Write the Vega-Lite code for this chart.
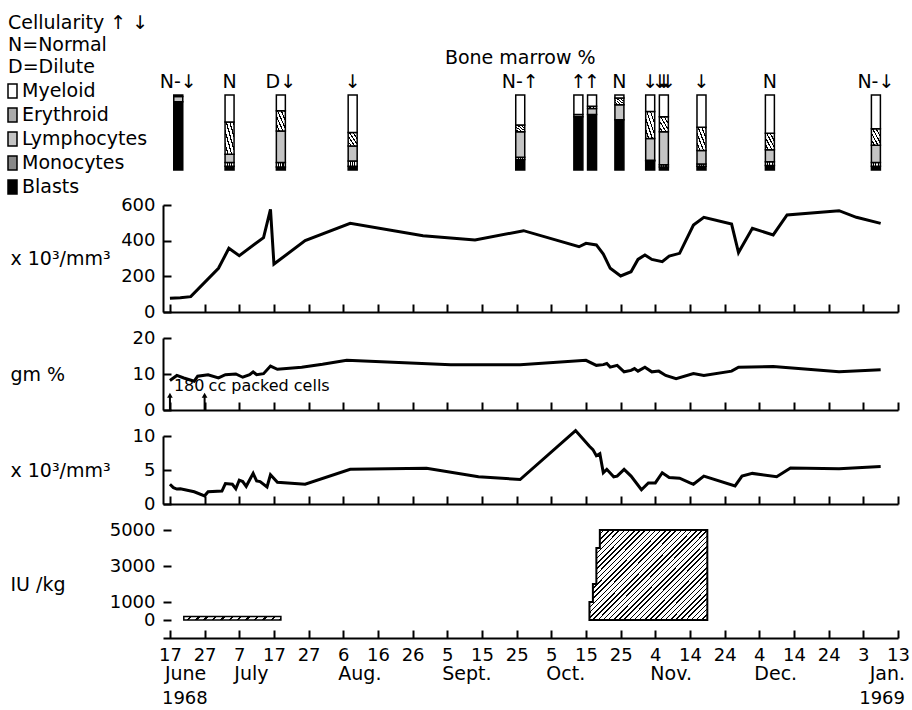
{
  "$schema": "https://vega.github.io/schema/vega-lite/v6.json",
  "autosize": {"type": "none"},
  "padding": {"left": 163, "top": 95, "right": 749, "bottom": 615},
  "background": "white",
  "bounds": "flush",
  "spacing": 26,
  "config": {
    "font": "DejaVu Sans",
    "view": {"stroke": null},
    "axis": {
      "grid": false, "domainColor": "black", "domainWidth": 2,
      "tickColor": "black", "tickWidth": 2, "tickSize": -8, "tickCount": 40,
      "labelColor": "black", "labelFont": "DejaVu Sans", "labelFontSize": 18,
      "labelPadding": 16, "labelFlush": false, "labelOverlap": false,
      "titleColor": "black", "titleFont": "DejaVu Sans", "titleFontSize": 19, "titleFontWeight": "normal"
    },
    "axisY": {"titleAngle": 0, "titleAlign": "left", "titleBaseline": "middle", "titleX": -153, "format": "d"},
    "text": {"font": "DejaVu Sans", "fontSize": 19, "fill": "black"}
  },
  "vconcat": [
    {
      "width": 735, "height": 84,
      "layer": [
        {
          "data": {
            "values": [
              {"date": "1968-06-18", "Myeloid": 2, "Erythroid": 0, "Lymphocytes": 7, "Monocytes": 0, "Blasts": 91},
              {"date": "1968-07-03", "Myeloid": 36, "Erythroid": 43, "Lymphocytes": 11, "Monocytes": 5, "Blasts": 5},
              {"date": "1968-07-18", "Myeloid": 21, "Erythroid": 27, "Lymphocytes": 42, "Monocytes": 6, "Blasts": 4},
              {"date": "1968-08-08", "Myeloid": 50, "Erythroid": 18, "Lymphocytes": 20, "Monocytes": 7, "Blasts": 5},
              {"date": "1968-09-26", "Myeloid": 40, "Erythroid": 9, "Lymphocytes": 34, "Monocytes": 3, "Blasts": 14},
              {"date": "1968-10-13", "Myeloid": 26, "Erythroid": 0, "Lymphocytes": 3, "Monocytes": 0, "Blasts": 71},
              {"date": "1968-10-17", "Myeloid": 15, "Erythroid": 3, "Lymphocytes": 8, "Monocytes": 0, "Blasts": 74},
              {"date": "1968-10-25", "Myeloid": 4, "Erythroid": 9, "Lymphocytes": 20, "Monocytes": 0, "Blasts": 67},
              {"date": "1968-11-03", "Myeloid": 22, "Erythroid": 36, "Lymphocytes": 29, "Monocytes": 1, "Blasts": 12},
              {"date": "1968-11-07", "Myeloid": 29, "Erythroid": 20, "Lymphocytes": 44, "Monocytes": 3, "Blasts": 4},
              {"date": "1968-11-18", "Myeloid": 43, "Erythroid": 31, "Lymphocytes": 18, "Monocytes": 3, "Blasts": 5},
              {"date": "1968-12-08", "Myeloid": 51, "Erythroid": 22, "Lymphocytes": 16, "Monocytes": 5, "Blasts": 6},
              {"date": "1969-01-08", "Myeloid": 45, "Erythroid": 22, "Lymphocytes": 23, "Monocytes": 5, "Blasts": 5}
            ],
            "format": {"parse": {"date": "date:'%Y-%m-%d'"}}
          },
          "transform": [
            {"fold": ["Blasts", "Monocytes", "Lymphocytes", "Erythroid", "Myeloid"], "as": ["cell", "pct"]},
            {"filter": "datum.pct > 0"},
            {"stack": "pct", "groupby": ["date"], "as": ["lo", "hi"]}
          ],
          "mark": {"type": "bar", "width": 9, "orient": "vertical", "stroke": "black", "strokeWidth": 1.5, "opacity": 1},
          "encoding": {
            "x": {"field": "date", "type": "temporal", "scale": {"domain": [{"year": 1968, "month": 6, "date": 15}, {"year": 1969, "month": 1, "date": 13}]}, "axis": null},
            "y": {"field": "lo", "type": "quantitative", "scale": {"domain": [-12, 100], "nice": false, "zero": false}, "axis": null},
            "y2": {"field": "hi"},
            "fill": {
              "condition": [
                {"test": "datum.cell === 'Erythroid'", "value": {"gradient": "linear", "x1": 0, "y1": 1, "x2": 1, "y2": 0, "stops": [
                  {"offset": 0, "color": "#fff"}, {"offset": 0.13, "color": "#fff"}, {"offset": 0.13, "color": "#000"}, {"offset": 0.2, "color": "#000"},
                  {"offset": 0.2, "color": "#fff"}, {"offset": 0.33, "color": "#fff"}, {"offset": 0.33, "color": "#000"}, {"offset": 0.4, "color": "#000"},
                  {"offset": 0.4, "color": "#fff"}, {"offset": 0.53, "color": "#fff"}, {"offset": 0.53, "color": "#000"}, {"offset": 0.6, "color": "#000"},
                  {"offset": 0.6, "color": "#fff"}, {"offset": 0.73, "color": "#fff"}, {"offset": 0.73, "color": "#000"}, {"offset": 0.8, "color": "#000"},
                  {"offset": 0.8, "color": "#fff"}, {"offset": 0.93, "color": "#fff"}, {"offset": 0.93, "color": "#000"}, {"offset": 1, "color": "#000"}
                ]}},
                {"test": "datum.cell === 'Monocytes'", "value": {"gradient": "linear", "x1": 0, "y1": 0, "x2": 1, "y2": 0, "stops": [
                  {"offset": 0, "color": "#fff"}, {"offset": 0.2, "color": "#fff"}, {"offset": 0.2, "color": "#000"}, {"offset": 0.32, "color": "#000"},
                  {"offset": 0.32, "color": "#fff"}, {"offset": 0.44, "color": "#fff"}, {"offset": 0.44, "color": "#000"}, {"offset": 0.56, "color": "#000"},
                  {"offset": 0.56, "color": "#fff"}, {"offset": 0.68, "color": "#fff"}, {"offset": 0.68, "color": "#000"}, {"offset": 0.8, "color": "#000"},
                  {"offset": 0.8, "color": "#fff"}, {"offset": 1, "color": "#fff"}
                ]}}
              ],
              "field": "cell", "type": "nominal",
              "scale": {
                "domain": ["Myeloid", "Erythroid", "Lymphocytes", "Monocytes", "Blasts"],
                "range": ["#ffffff", "#aaaaaa", "#c4c4c4", "#888888", "#000000"]
              },
              "legend": {
                "orient": "none", "legendX": -155, "legendY": -81, "padding": 0,
                "title": ["Cellularity ↑ ↓", "N=Normal", "D=Dilute"],
                "titleFontSize": 19, "titleFontWeight": "normal", "titleColor": "black", "titleLineHeight": 22, "titlePadding": 4.5,
                "labelFontSize": 19, "labelColor": "black", "labelOffset": 0,
                "symbolType": "M-0.9,-1.4H0.9V1.4H-0.9Z", "symbolSize": 100, "symbolOffset": -5,
                "symbolStrokeColor": "black", "symbolStrokeWidth": 1.5, "rowPadding": 3,
                "encode": {
                  "symbols": {
                    "fill": {"signal": "datum.value === 'Erythroid' ? {gradient: 'linear', x1: 0, y1: 1, x2: 1, y2: 0, stops: [{offset: 0, color: '#fff'}, {offset: 0.27, color: '#fff'}, {offset: 0.27, color: '#000'}, {offset: 0.37, color: '#000'}, {offset: 0.37, color: '#fff'}, {offset: 0.63, color: '#fff'}, {offset: 0.63, color: '#000'}, {offset: 0.73, color: '#000'}, {offset: 0.73, color: '#fff'}, {offset: 1, color: '#fff'}]} : datum.value === 'Monocytes' ? {gradient: 'linear', x1: 0, y1: 0, x2: 1, y2: 0, stops: [{offset: 0, color: '#fff'}, {offset: 0.2, color: '#fff'}, {offset: 0.2, color: '#000'}, {offset: 0.32, color: '#000'}, {offset: 0.32, color: '#fff'}, {offset: 0.44, color: '#fff'}, {offset: 0.44, color: '#000'}, {offset: 0.56, color: '#000'}, {offset: 0.56, color: '#fff'}, {offset: 0.68, color: '#fff'}, {offset: 0.68, color: '#000'}, {offset: 0.8, color: '#000'}, {offset: 0.8, color: '#fff'}, {offset: 1, color: '#fff'}]} : datum.value === 'Lymphocytes' ? '#c4c4c4' : datum.value === 'Blasts' ? '#000000' : '#ffffff'"},
                    "stroke": {"value": "black"},
                    "strokeWidth": {"value": 1.5},
                    "opacity": {"value": 1}
                  }
                }
              }
            }
          }
        },
        {
          "data": {
            "values": [
              {"date": "1968-06-18", "cellularity": "N-↓"},
              {"date": "1968-07-03", "cellularity": "N"},
              {"date": "1968-07-18", "cellularity": "D↓"},
              {"date": "1968-08-08", "cellularity": "↓"},
              {"date": "1968-09-26", "cellularity": "N-↑"},
              {"date": "1968-10-13", "cellularity": "↑"},
              {"date": "1968-10-17", "cellularity": "↑"},
              {"date": "1968-10-25", "cellularity": "N"},
              {"date": "1968-11-03", "cellularity": "↓"},
              {"date": "1968-11-18", "cellularity": "↓"},
              {"date": "1968-12-08", "cellularity": "N"},
              {"date": "1969-01-08", "cellularity": "N-↓"}
            ],
            "format": {"parse": {"date": "date:'%Y-%m-%d'"}}
          },
          "mark": {"type": "text", "fontSize": 19, "baseline": "alphabetic", "dy": -7},
          "encoding": {
            "x": {"field": "date", "type": "temporal"},
            "y": {"datum": 100},
            "text": {"field": "cellularity"}
          }
        },
        {
          "data": {"values": [{"date": "1968-11-07", "cellularity": "↓↓↓"}], "format": {"parse": {"date": "date:'%Y-%m-%d'"}}},
          "encoding": {
            "x": {"field": "date", "type": "temporal"},
            "y": {"datum": 100}
          },
          "layer": [
            {"mark": {"type": "text", "text": "↓", "fontSize": 19, "baseline": "alphabetic", "dy": -7, "dx": -4}},
            {"mark": {"type": "text", "text": "↓", "fontSize": 19, "baseline": "alphabetic", "dy": -7}},
            {"mark": {"type": "text", "text": "↓", "fontSize": 19, "baseline": "alphabetic", "dy": -7, "dx": 4}}
          ]
        },
        {
          "data": {"values": [{"label": "Bone marrow %"}]},
          "mark": {"type": "text", "fontSize": 19, "baseline": "middle", "dy": -37},
          "encoding": {
            "x": {"datum": {"year": 1968, "month": 9, "date": 26}},
            "y": {"datum": 100},
            "text": {"field": "label"}
          }
        }
      ]
    },
    {
      "width": 735, "height": 107,
      "encoding": {
        "x": {
          "field": "date", "type": "temporal",
          "scale": {"domain": [{"year": 1968, "month": 6, "date": 15}, {"year": 1969, "month": 1, "date": 13}]},
          "axis": {"labels": false, "title": null, "values": [
            {"year": 1968, "month": 6, "date": 17}, {"year": 1968, "month": 6, "date": 27}, {"year": 1968, "month": 7, "date": 7}, {"year": 1968, "month": 7, "date": 17},
            {"year": 1968, "month": 7, "date": 27}, {"year": 1968, "month": 8, "date": 6}, {"year": 1968, "month": 8, "date": 16}, {"year": 1968, "month": 8, "date": 26},
            {"year": 1968, "month": 9, "date": 5}, {"year": 1968, "month": 9, "date": 15}, {"year": 1968, "month": 9, "date": 25}, {"year": 1968, "month": 10, "date": 5},
            {"year": 1968, "month": 10, "date": 15}, {"year": 1968, "month": 10, "date": 25}, {"year": 1968, "month": 11, "date": 4}, {"year": 1968, "month": 11, "date": 14},
            {"year": 1968, "month": 11, "date": 24}, {"year": 1968, "month": 12, "date": 4}, {"year": 1968, "month": 12, "date": 14}, {"year": 1968, "month": 12, "date": 24},
            {"year": 1969, "month": 1, "date": 3}, {"year": 1969, "month": 1, "date": 13}
          ]}
        }
      },
      "layer": [
        {
          "data": {
            "values": [
              {"date": "1968-06-17", "count": 77}, {"date": "1968-06-20", "count": 80}, {"date": "1968-06-23", "count": 86},
              {"date": "1968-07-01", "count": 245}, {"date": "1968-07-04", "count": 357}, {"date": "1968-07-07", "count": 316},
              {"date": "1968-07-14", "count": 417}, {"date": "1968-07-16", "count": 576}, {"date": "1968-07-17", "count": 269},
              {"date": "1968-07-26", "count": 400}, {"date": "1968-08-08", "count": 497}, {"date": "1968-08-29", "count": 428},
              {"date": "1968-09-13", "count": 404}, {"date": "1968-09-27", "count": 456}, {"date": "1968-10-13", "count": 366},
              {"date": "1968-10-15", "count": 385}, {"date": "1968-10-18", "count": 376}, {"date": "1968-10-20", "count": 325},
              {"date": "1968-10-22", "count": 245}, {"date": "1968-10-25", "count": 202}, {"date": "1968-10-28", "count": 226},
              {"date": "1968-10-30", "count": 295}, {"date": "1968-11-01", "count": 320}, {"date": "1968-11-03", "count": 295},
              {"date": "1968-11-06", "count": 282}, {"date": "1968-11-08", "count": 314}, {"date": "1968-11-11", "count": 329},
              {"date": "1968-11-15", "count": 488}, {"date": "1968-11-18", "count": 531}, {"date": "1968-11-26", "count": 493},
              {"date": "1968-11-28", "count": 333}, {"date": "1968-12-02", "count": 469}, {"date": "1968-12-08", "count": 432},
              {"date": "1968-12-12", "count": 544}, {"date": "1968-12-27", "count": 568}, {"date": "1969-01-01", "count": 531},
              {"date": "1969-01-08", "count": 497}
            ],
            "format": {"parse": {"date": "date:'%Y-%m-%d'"}}
          },
          "mark": {"type": "line", "color": "black", "strokeWidth": 3},
          "encoding": {
            "y": {"field": "count", "type": "quantitative", "scale": {"domain": [0, 600], "nice": false},
                  "axis": {"values": [0, 200, 400, 600], "tickCount": 40, "title": "x 10³/mm³", "titleY": 53.5}}
          }
        },
        {
          "data": {"values": [{"label": "Platelets"}]},
          "mark": {"type": "text", "fontSize": 19, "baseline": "middle"},
          "encoding": {
            "x": {"datum": {"year": 1968, "month": 9, "date": 6}},
            "y": {"datum": 560},
            "text": {"field": "label"}
          }
        }
      ]
    },
    {
      "width": 735, "height": 72,
      "encoding": {
        "x": {
          "field": "date", "type": "temporal",
          "scale": {"domain": [{"year": 1968, "month": 6, "date": 15}, {"year": 1969, "month": 1, "date": 13}]},
          "axis": {"labels": false, "title": null, "values": [
            {"year": 1968, "month": 6, "date": 17}, {"year": 1968, "month": 6, "date": 27}, {"year": 1968, "month": 7, "date": 7}, {"year": 1968, "month": 7, "date": 17},
            {"year": 1968, "month": 7, "date": 27}, {"year": 1968, "month": 8, "date": 6}, {"year": 1968, "month": 8, "date": 16}, {"year": 1968, "month": 8, "date": 26},
            {"year": 1968, "month": 9, "date": 5}, {"year": 1968, "month": 9, "date": 15}, {"year": 1968, "month": 9, "date": 25}, {"year": 1968, "month": 10, "date": 5},
            {"year": 1968, "month": 10, "date": 15}, {"year": 1968, "month": 10, "date": 25}, {"year": 1968, "month": 11, "date": 4}, {"year": 1968, "month": 11, "date": 14},
            {"year": 1968, "month": 11, "date": 24}, {"year": 1968, "month": 12, "date": 4}, {"year": 1968, "month": 12, "date": 14}, {"year": 1968, "month": 12, "date": 24},
            {"year": 1969, "month": 1, "date": 3}, {"year": 1969, "month": 1, "date": 13}
          ]}
        }
      },
      "layer": [
        {
          "data": {
            "values": [
              {"date": "1968-06-17", "gm": 8.2}, {"date": "1968-06-19", "gm": 9.6}, {"date": "1968-06-21", "gm": 8.9},
              {"date": "1968-06-24", "gm": 8.0}, {"date": "1968-06-25", "gm": 9.4}, {"date": "1968-06-28", "gm": 9.8},
              {"date": "1968-07-01", "gm": 8.9}, {"date": "1968-07-03", "gm": 9.8}, {"date": "1968-07-06", "gm": 10.0},
              {"date": "1968-07-08", "gm": 9.1}, {"date": "1968-07-10", "gm": 9.8}, {"date": "1968-07-11", "gm": 10.6},
              {"date": "1968-07-12", "gm": 9.8}, {"date": "1968-07-14", "gm": 10.1}, {"date": "1968-07-16", "gm": 12.2},
              {"date": "1968-07-18", "gm": 11.3}, {"date": "1968-07-25", "gm": 11.9}, {"date": "1968-07-31", "gm": 12.7},
              {"date": "1968-08-07", "gm": 13.8}, {"date": "1968-09-06", "gm": 12.6}, {"date": "1968-09-26", "gm": 12.6},
              {"date": "1968-10-15", "gm": 13.8}, {"date": "1968-10-18", "gm": 12.4}, {"date": "1968-10-20", "gm": 12.6},
              {"date": "1968-10-21", "gm": 12.9}, {"date": "1968-10-22", "gm": 11.9}, {"date": "1968-10-24", "gm": 12.4},
              {"date": "1968-10-26", "gm": 10.6}, {"date": "1968-10-28", "gm": 11.0}, {"date": "1968-10-29", "gm": 11.5},
              {"date": "1968-10-30", "gm": 10.8}, {"date": "1968-11-01", "gm": 11.9}, {"date": "1968-11-03", "gm": 10.6},
              {"date": "1968-11-05", "gm": 10.8}, {"date": "1968-11-07", "gm": 9.6}, {"date": "1968-11-10", "gm": 8.7},
              {"date": "1968-11-15", "gm": 10.1}, {"date": "1968-11-18", "gm": 9.6}, {"date": "1968-11-26", "gm": 10.8},
              {"date": "1968-11-28", "gm": 11.9}, {"date": "1968-12-08", "gm": 12.1}, {"date": "1968-12-18", "gm": 11.3},
              {"date": "1968-12-27", "gm": 10.6}, {"date": "1969-01-08", "gm": 11.2}
            ],
            "format": {"parse": {"date": "date:'%Y-%m-%d'"}}
          },
          "mark": {"type": "line", "color": "black", "strokeWidth": 3},
          "encoding": {
            "y": {"field": "gm", "type": "quantitative", "scale": {"domain": [0, 20], "nice": false},
                  "axis": {"values": [0, 10, 20], "tickCount": 40, "title": "gm  %", "titleY": 36}}
          }
        },
        {
          "data": {"values": [{"date": "1968-06-17", "note": "180"}, {"date": "1968-06-27", "note": "cc packed cells"}], "format": {"parse": {"date": "date:'%Y-%m-%d'"}}},
          "layer": [
            {"mark": {"type": "rule", "color": "black", "strokeWidth": 2}, "encoding": {"x": {"field": "date", "type": "temporal"}, "y": {"datum": 0}, "y2": {"datum": 3.8}}},
            {"mark": {"type": "point", "shape": "triangle-up", "filled": true, "color": "black", "size": 32, "opacity": 1}, "encoding": {"x": {"field": "date", "type": "temporal"}, "y": {"datum": 4.1}}},
            {"mark": {"type": "text", "fontSize": 16, "align": "left", "baseline": "middle", "dx": 4}, "encoding": {"x": {"field": "date", "type": "temporal"}, "y": {"datum": 6.6}, "text": {"field": "note"}}}
          ]
        },
        {
          "data": {"values": [{"label": "Hemoglobin"}]},
          "mark": {"type": "text", "fontSize": 19, "baseline": "middle"},
          "encoding": {
            "x": {"datum": {"year": 1968, "month": 9, "date": 10}},
            "y": {"datum": 17.5},
            "text": {"field": "label"}
          }
        }
      ]
    },
    {
      "width": 735, "height": 68,
      "encoding": {
        "x": {
          "field": "date", "type": "temporal",
          "scale": {"domain": [{"year": 1968, "month": 6, "date": 15}, {"year": 1969, "month": 1, "date": 13}]},
          "axis": {"labels": false, "title": null, "values": [
            {"year": 1968, "month": 6, "date": 17}, {"year": 1968, "month": 6, "date": 27}, {"year": 1968, "month": 7, "date": 7}, {"year": 1968, "month": 7, "date": 17},
            {"year": 1968, "month": 7, "date": 27}, {"year": 1968, "month": 8, "date": 6}, {"year": 1968, "month": 8, "date": 16}, {"year": 1968, "month": 8, "date": 26},
            {"year": 1968, "month": 9, "date": 5}, {"year": 1968, "month": 9, "date": 15}, {"year": 1968, "month": 9, "date": 25}, {"year": 1968, "month": 10, "date": 5},
            {"year": 1968, "month": 10, "date": 15}, {"year": 1968, "month": 10, "date": 25}, {"year": 1968, "month": 11, "date": 4}, {"year": 1968, "month": 11, "date": 14},
            {"year": 1968, "month": 11, "date": 24}, {"year": 1968, "month": 12, "date": 4}, {"year": 1968, "month": 12, "date": 14}, {"year": 1968, "month": 12, "date": 24},
            {"year": 1969, "month": 1, "date": 3}, {"year": 1969, "month": 1, "date": 13}
          ]}
        }
      },
      "layer": [
        {
          "data": {
            "values": [
              {"date": "1968-06-17", "wbc": 2.9}, {"date": "1968-06-18", "wbc": 2.4}, {"date": "1968-06-19", "wbc": 2.2},
              {"date": "1968-06-20", "wbc": 2.25}, {"date": "1968-06-24", "wbc": 1.8}, {"date": "1968-06-27", "wbc": 1.2},
              {"date": "1968-06-28", "wbc": 1.8}, {"date": "1968-07-02", "wbc": 1.9}, {"date": "1968-07-03", "wbc": 3.0},
              {"date": "1968-07-05", "wbc": 2.9}, {"date": "1968-07-06", "wbc": 2.25}, {"date": "1968-07-07", "wbc": 3.5},
              {"date": "1968-07-08", "wbc": 3.3}, {"date": "1968-07-09", "wbc": 2.6}, {"date": "1968-07-11", "wbc": 4.5},
              {"date": "1968-07-12", "wbc": 3.4}, {"date": "1968-07-13", "wbc": 3.3}, {"date": "1968-07-15", "wbc": 2.5},
              {"date": "1968-07-16", "wbc": 4.3}, {"date": "1968-07-18", "wbc": 3.2}, {"date": "1968-07-26", "wbc": 2.9},
              {"date": "1968-08-08", "wbc": 5.1}, {"date": "1968-08-30", "wbc": 5.25}, {"date": "1968-09-14", "wbc": 4.0},
              {"date": "1968-09-26", "wbc": 3.6}, {"date": "1968-10-12", "wbc": 10.8}, {"date": "1968-10-16", "wbc": 8.5},
              {"date": "1968-10-17", "wbc": 8.0}, {"date": "1968-10-18", "wbc": 7.1}, {"date": "1968-10-19", "wbc": 7.4},
              {"date": "1968-10-20", "wbc": 4.6}, {"date": "1968-10-21", "wbc": 5.1}, {"date": "1968-10-23", "wbc": 4.0},
              {"date": "1968-10-24", "wbc": 4.1}, {"date": "1968-10-26", "wbc": 5.1}, {"date": "1968-10-28", "wbc": 4.1},
              {"date": "1968-10-31", "wbc": 2.1}, {"date": "1968-11-02", "wbc": 3.1}, {"date": "1968-11-04", "wbc": 3.1},
              {"date": "1968-11-06", "wbc": 4.6}, {"date": "1968-11-08", "wbc": 3.9}, {"date": "1968-11-11", "wbc": 3.8},
              {"date": "1968-11-14", "wbc": 3.1}, {"date": "1968-11-15", "wbc": 2.9}, {"date": "1968-11-18", "wbc": 4.1},
              {"date": "1968-11-27", "wbc": 2.65}, {"date": "1968-11-29", "wbc": 4.1}, {"date": "1968-12-02", "wbc": 4.5},
              {"date": "1968-12-09", "wbc": 4.0}, {"date": "1968-12-13", "wbc": 5.3}, {"date": "1968-12-27", "wbc": 5.2},
              {"date": "1969-01-08", "wbc": 5.5}
            ],
            "format": {"parse": {"date": "date:'%Y-%m-%d'"}}
          },
          "mark": {"type": "line", "color": "black", "strokeWidth": 3},
          "encoding": {
            "y": {"field": "wbc", "type": "quantitative", "scale": {"domain": [0, 10], "nice": false},
                  "axis": {"values": [0, 5, 10], "tickCount": 40, "title": "x 10³/mm³", "titleY": 34}}
          }
        },
        {
          "data": {"values": [{"label": "WBC"}]},
          "mark": {"type": "text", "fontSize": 19, "baseline": "middle"},
          "encoding": {
            "x": {"datum": {"year": 1968, "month": 8, "date": 31}},
            "y": {"datum": 9.3},
            "text": {"field": "label"}
          }
        }
      ]
    },
    {
      "width": 735, "height": 108,
      "encoding": {
        "x": {
          "field": "date", "type": "temporal",
          "scale": {"domain": [{"year": 1968, "month": 6, "date": 15}, {"year": 1969, "month": 1, "date": 13}]},
          "axis": {"format": "%-d", "title": null, "values": [
            {"year": 1968, "month": 6, "date": 17}, {"year": 1968, "month": 6, "date": 27}, {"year": 1968, "month": 7, "date": 7}, {"year": 1968, "month": 7, "date": 17},
            {"year": 1968, "month": 7, "date": 27}, {"year": 1968, "month": 8, "date": 6}, {"year": 1968, "month": 8, "date": 16}, {"year": 1968, "month": 8, "date": 26},
            {"year": 1968, "month": 9, "date": 5}, {"year": 1968, "month": 9, "date": 15}, {"year": 1968, "month": 9, "date": 25}, {"year": 1968, "month": 10, "date": 5},
            {"year": 1968, "month": 10, "date": 15}, {"year": 1968, "month": 10, "date": 25}, {"year": 1968, "month": 11, "date": 4}, {"year": 1968, "month": 11, "date": 14},
            {"year": 1968, "month": 11, "date": 24}, {"year": 1968, "month": 12, "date": 4}, {"year": 1968, "month": 12, "date": 14}, {"year": 1968, "month": 12, "date": 24},
            {"year": 1969, "month": 1, "date": 3}, {"year": 1969, "month": 1, "date": 13}
          ]}
        }
      },
      "layer": [
        {
          "data": {"values": [{"date": "1968-06-21", "dose": 200}, {"date": "1968-07-19", "dose": 200}], "format": {"parse": {"date": "date:'%Y-%m-%d'"}}},
          "mark": {
            "type": "area", "interpolate": "step-after", "stroke": "black", "strokeWidth": 1.5, "opacity": 1,
            "fill": {"gradient": "linear", "x1": 0, "y1": 0, "x2": 1.036, "y2": 0.038, "stops": [
              {"offset": 0, "color": "#fff"}, {"offset": 0.0583, "color": "#fff"}, {"offset": 0.0583, "color": "#000"}, {"offset": 0.0833, "color": "#000"},
              {"offset": 0.0833, "color": "#fff"}, {"offset": 0.1417, "color": "#fff"}, {"offset": 0.1417, "color": "#000"}, {"offset": 0.1667, "color": "#000"},
              {"offset": 0.1667, "color": "#fff"}, {"offset": 0.225, "color": "#fff"}, {"offset": 0.225, "color": "#000"}, {"offset": 0.25, "color": "#000"},
              {"offset": 0.25, "color": "#fff"}, {"offset": 0.3083, "color": "#fff"}, {"offset": 0.3083, "color": "#000"}, {"offset": 0.3333, "color": "#000"},
              {"offset": 0.3333, "color": "#fff"}, {"offset": 0.3917, "color": "#fff"}, {"offset": 0.3917, "color": "#000"}, {"offset": 0.4167, "color": "#000"},
              {"offset": 0.4167, "color": "#fff"}, {"offset": 0.475, "color": "#fff"}, {"offset": 0.475, "color": "#000"}, {"offset": 0.5, "color": "#000"},
              {"offset": 0.5, "color": "#fff"}, {"offset": 0.5583, "color": "#fff"}, {"offset": 0.5583, "color": "#000"}, {"offset": 0.5833, "color": "#000"},
              {"offset": 0.5833, "color": "#fff"}, {"offset": 0.6417, "color": "#fff"}, {"offset": 0.6417, "color": "#000"}, {"offset": 0.6667, "color": "#000"},
              {"offset": 0.6667, "color": "#fff"}, {"offset": 0.725, "color": "#fff"}, {"offset": 0.725, "color": "#000"}, {"offset": 0.75, "color": "#000"},
              {"offset": 0.75, "color": "#fff"}, {"offset": 0.8083, "color": "#fff"}, {"offset": 0.8083, "color": "#000"}, {"offset": 0.8333, "color": "#000"},
              {"offset": 0.8333, "color": "#fff"}, {"offset": 0.8917, "color": "#fff"}, {"offset": 0.8917, "color": "#000"}, {"offset": 0.9167, "color": "#000"},
              {"offset": 0.9167, "color": "#fff"}, {"offset": 0.975, "color": "#fff"}, {"offset": 0.975, "color": "#000"}, {"offset": 1, "color": "#000"}
            ]}
          },
          "encoding": {
            "y": {"field": "dose", "type": "quantitative", "scale": {"domain": [-1000, 5000], "nice": false, "zero": false},
                  "axis": {"values": [0, 1000, 3000, 5000], "tickCount": 40, "domain": false, "title": "IU /kg", "titleY": 54}}
          }
        },
        {
          "data": {
            "values": [
              {"date": "1968-10-16", "dose": 1000}, {"date": "1968-10-17", "dose": 2000}, {"date": "1968-10-18", "dose": 4000},
              {"date": "1968-10-19", "dose": 5000}, {"date": "1968-11-19", "dose": 5000}
            ],
            "format": {"parse": {"date": "date:'%Y-%m-%d'"}}
          },
          "mark": {
            "type": "area", "interpolate": "step-after", "stroke": "black", "strokeWidth": 2, "opacity": 1,
            "fill": {"gradient": "linear", "x1": 0, "y1": 0, "x2": 1.117, "y2": 0.845, "stops": [
              {"offset": 0, "color": "#fff"}, {"offset": 0.0175, "color": "#fff"}, {"offset": 0.0175, "color": "#000"}, {"offset": 0.025, "color": "#000"},
              {"offset": 0.025, "color": "#fff"}, {"offset": 0.0425, "color": "#fff"}, {"offset": 0.0425, "color": "#000"}, {"offset": 0.05, "color": "#000"},
              {"offset": 0.05, "color": "#fff"}, {"offset": 0.0675, "color": "#fff"}, {"offset": 0.0675, "color": "#000"}, {"offset": 0.075, "color": "#000"},
              {"offset": 0.075, "color": "#fff"}, {"offset": 0.0925, "color": "#fff"}, {"offset": 0.0925, "color": "#000"}, {"offset": 0.1, "color": "#000"},
              {"offset": 0.1, "color": "#fff"}, {"offset": 0.1175, "color": "#fff"}, {"offset": 0.1175, "color": "#000"}, {"offset": 0.125, "color": "#000"},
              {"offset": 0.125, "color": "#fff"}, {"offset": 0.1425, "color": "#fff"}, {"offset": 0.1425, "color": "#000"}, {"offset": 0.15, "color": "#000"},
              {"offset": 0.15, "color": "#fff"}, {"offset": 0.1675, "color": "#fff"}, {"offset": 0.1675, "color": "#000"}, {"offset": 0.175, "color": "#000"},
              {"offset": 0.175, "color": "#fff"}, {"offset": 0.1925, "color": "#fff"}, {"offset": 0.1925, "color": "#000"}, {"offset": 0.2, "color": "#000"},
              {"offset": 0.2, "color": "#fff"}, {"offset": 0.2175, "color": "#fff"}, {"offset": 0.2175, "color": "#000"}, {"offset": 0.225, "color": "#000"},
              {"offset": 0.225, "color": "#fff"}, {"offset": 0.2425, "color": "#fff"}, {"offset": 0.2425, "color": "#000"}, {"offset": 0.25, "color": "#000"},
              {"offset": 0.25, "color": "#fff"}, {"offset": 0.2675, "color": "#fff"}, {"offset": 0.2675, "color": "#000"}, {"offset": 0.275, "color": "#000"},
              {"offset": 0.275, "color": "#fff"}, {"offset": 0.2925, "color": "#fff"}, {"offset": 0.2925, "color": "#000"}, {"offset": 0.3, "color": "#000"},
              {"offset": 0.3, "color": "#fff"}, {"offset": 0.3175, "color": "#fff"}, {"offset": 0.3175, "color": "#000"}, {"offset": 0.325, "color": "#000"},
              {"offset": 0.325, "color": "#fff"}, {"offset": 0.3425, "color": "#fff"}, {"offset": 0.3425, "color": "#000"}, {"offset": 0.35, "color": "#000"},
              {"offset": 0.35, "color": "#fff"}, {"offset": 0.3675, "color": "#fff"}, {"offset": 0.3675, "color": "#000"}, {"offset": 0.375, "color": "#000"},
              {"offset": 0.375, "color": "#fff"}, {"offset": 0.3925, "color": "#fff"}, {"offset": 0.3925, "color": "#000"}, {"offset": 0.4, "color": "#000"},
              {"offset": 0.4, "color": "#fff"}, {"offset": 0.4175, "color": "#fff"}, {"offset": 0.4175, "color": "#000"}, {"offset": 0.425, "color": "#000"},
              {"offset": 0.425, "color": "#fff"}, {"offset": 0.4425, "color": "#fff"}, {"offset": 0.4425, "color": "#000"}, {"offset": 0.45, "color": "#000"},
              {"offset": 0.45, "color": "#fff"}, {"offset": 0.4675, "color": "#fff"}, {"offset": 0.4675, "color": "#000"}, {"offset": 0.475, "color": "#000"},
              {"offset": 0.475, "color": "#fff"}, {"offset": 0.4925, "color": "#fff"}, {"offset": 0.4925, "color": "#000"}, {"offset": 0.5, "color": "#000"},
              {"offset": 0.5, "color": "#fff"}, {"offset": 0.5175, "color": "#fff"}, {"offset": 0.5175, "color": "#000"}, {"offset": 0.525, "color": "#000"},
              {"offset": 0.525, "color": "#fff"}, {"offset": 0.5425, "color": "#fff"}, {"offset": 0.5425, "color": "#000"}, {"offset": 0.55, "color": "#000"},
              {"offset": 0.55, "color": "#fff"}, {"offset": 0.5675, "color": "#fff"}, {"offset": 0.5675, "color": "#000"}, {"offset": 0.575, "color": "#000"},
              {"offset": 0.575, "color": "#fff"}, {"offset": 0.5925, "color": "#fff"}, {"offset": 0.5925, "color": "#000"}, {"offset": 0.6, "color": "#000"},
              {"offset": 0.6, "color": "#fff"}, {"offset": 0.6175, "color": "#fff"}, {"offset": 0.6175, "color": "#000"}, {"offset": 0.625, "color": "#000"},
              {"offset": 0.625, "color": "#fff"}, {"offset": 0.6425, "color": "#fff"}, {"offset": 0.6425, "color": "#000"}, {"offset": 0.65, "color": "#000"},
              {"offset": 0.65, "color": "#fff"}, {"offset": 0.6675, "color": "#fff"}, {"offset": 0.6675, "color": "#000"}, {"offset": 0.675, "color": "#000"},
              {"offset": 0.675, "color": "#fff"}, {"offset": 0.6925, "color": "#fff"}, {"offset": 0.6925, "color": "#000"}, {"offset": 0.7, "color": "#000"},
              {"offset": 0.7, "color": "#fff"}, {"offset": 0.7175, "color": "#fff"}, {"offset": 0.7175, "color": "#000"}, {"offset": 0.725, "color": "#000"},
              {"offset": 0.725, "color": "#fff"}, {"offset": 0.7425, "color": "#fff"}, {"offset": 0.7425, "color": "#000"}, {"offset": 0.75, "color": "#000"},
              {"offset": 0.75, "color": "#fff"}, {"offset": 0.7675, "color": "#fff"}, {"offset": 0.7675, "color": "#000"}, {"offset": 0.775, "color": "#000"},
              {"offset": 0.775, "color": "#fff"}, {"offset": 0.7925, "color": "#fff"}, {"offset": 0.7925, "color": "#000"}, {"offset": 0.8, "color": "#000"},
              {"offset": 0.8, "color": "#fff"}, {"offset": 0.8175, "color": "#fff"}, {"offset": 0.8175, "color": "#000"}, {"offset": 0.825, "color": "#000"},
              {"offset": 0.825, "color": "#fff"}, {"offset": 0.8425, "color": "#fff"}, {"offset": 0.8425, "color": "#000"}, {"offset": 0.85, "color": "#000"},
              {"offset": 0.85, "color": "#fff"}, {"offset": 0.8675, "color": "#fff"}, {"offset": 0.8675, "color": "#000"}, {"offset": 0.875, "color": "#000"},
              {"offset": 0.875, "color": "#fff"}, {"offset": 0.8925, "color": "#fff"}, {"offset": 0.8925, "color": "#000"}, {"offset": 0.9, "color": "#000"},
              {"offset": 0.9, "color": "#fff"}, {"offset": 0.9175, "color": "#fff"}, {"offset": 0.9175, "color": "#000"}, {"offset": 0.925, "color": "#000"},
              {"offset": 0.925, "color": "#fff"}, {"offset": 0.9425, "color": "#fff"}, {"offset": 0.9425, "color": "#000"}, {"offset": 0.95, "color": "#000"},
              {"offset": 0.95, "color": "#fff"}, {"offset": 0.9675, "color": "#fff"}, {"offset": 0.9675, "color": "#000"}, {"offset": 0.975, "color": "#000"},
              {"offset": 0.975, "color": "#fff"}, {"offset": 0.9925, "color": "#fff"}, {"offset": 0.9925, "color": "#000"}, {"offset": 1, "color": "#000"}
            ]}
          },
          "encoding": {"y": {"field": "dose", "type": "quantitative"}}
        },
        {
          "data": {"values": [{"from": 0, "to": 5000}]},
          "mark": {"type": "rule", "color": "black", "strokeWidth": 2},
          "encoding": {
            "x": {"datum": {"year": 1968, "month": 6, "date": 15}},
            "y": {"field": "from", "type": "quantitative"},
            "y2": {"field": "to"}
          }
        },
        {
          "data": {"values": [{"label": "L-Asparaginase"}]},
          "mark": {"type": "text", "fontSize": 19, "align": "left", "baseline": "middle", "text": ["L-Asparaginase", "i.v."], "lineHeight": 24},
          "encoding": {
            "x": {"datum": {"year": 1968, "month": 8, "date": 25}},
            "y": {"datum": 3750}
          }
        },
        {
          "data": {
            "values": [
              {"date": "1968-06-17", "month": "June"}, {"date": "1968-07-07", "month": "July"}, {"date": "1968-08-06", "month": "Aug."},
              {"date": "1968-09-05", "month": "Sept."}, {"date": "1968-10-05", "month": "Oct."}, {"date": "1968-11-04", "month": "Nov."},
              {"date": "1968-12-04", "month": "Dec."}
            ],
            "format": {"parse": {"date": "date:'%Y-%m-%d'"}}
          },
          "mark": {"type": "text", "fontSize": 19, "align": "left", "baseline": "middle", "dx": -5, "dy": 36},
          "encoding": {
            "x": {"field": "date", "type": "temporal"},
            "y": {"datum": -1000},
            "text": {"field": "month"}
          }
        },
        {
          "data": {"values": [{"date": "1969-01-13", "month": "Jan."}], "format": {"parse": {"date": "date:'%Y-%m-%d'"}}},
          "mark": {"type": "text", "fontSize": 19, "align": "right", "baseline": "middle", "dx": 7, "dy": 36},
          "encoding": {
            "x": {"field": "date", "type": "temporal"},
            "y": {"datum": -1000},
            "text": {"field": "month"}
          }
        },
        {
          "data": {"values": [{"date": "1968-06-17", "year": "1968"}], "format": {"parse": {"date": "date:'%Y-%m-%d'"}}},
          "mark": {"type": "text", "fontSize": 18, "align": "left", "baseline": "middle", "dx": -8, "dy": 61},
          "encoding": {
            "x": {"field": "date", "type": "temporal"},
            "y": {"datum": -1000},
            "text": {"field": "year"}
          }
        },
        {
          "data": {"values": [{"date": "1969-01-13", "year": "1969"}], "format": {"parse": {"date": "date:'%Y-%m-%d'"}}},
          "mark": {"type": "text", "fontSize": 18, "align": "right", "baseline": "middle", "dx": 7, "dy": 61},
          "encoding": {
            "x": {"field": "date", "type": "temporal"},
            "y": {"datum": -1000},
            "text": {"field": "year"}
          }
        }
      ]
    }
  ]
}
